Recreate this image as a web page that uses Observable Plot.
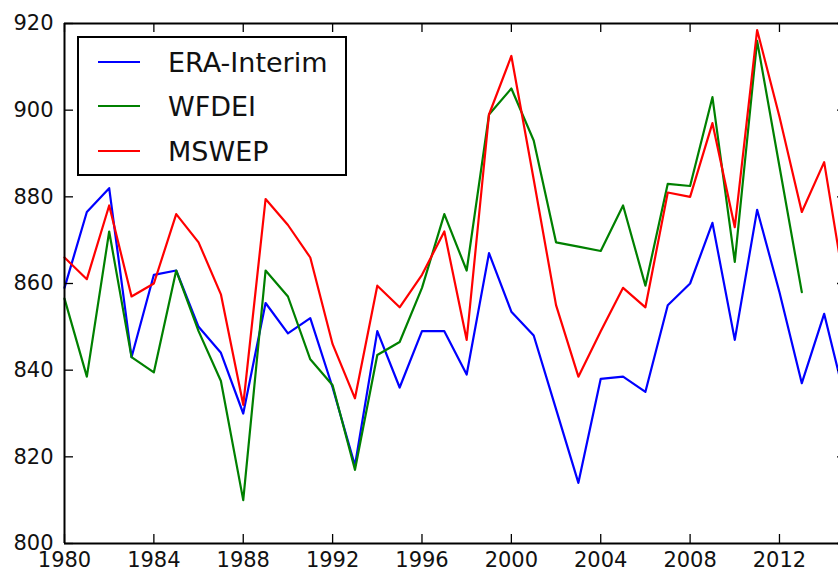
<!DOCTYPE html>
<html>
<head>
<meta charset="utf-8">
<script src="https://cdn.jsdelivr.net/npm/d3@7"></script>
<script src="https://cdn.jsdelivr.net/npm/@observablehq/plot@0.6"></script>
<style>
  html, body { margin: 0; padding: 0; background: white; overflow: hidden; }
  #wrap { position: relative; width: 838px; height: 574px; overflow: hidden; }
  #legend { position: absolute; left: 77px; top: 36px; width: 270px; height: 140px;
            box-sizing: border-box; border: 2px solid #000; background: white;
            font-family: "DejaVu Sans", sans-serif; font-size: 27px; color: #111; }
  .item { position: absolute; left: 0; height: 0; }
  .swatch { position: absolute; left: 19px; width: 42px; height: 0; border-top: 2px solid; top: -1px; }
  .label { position: absolute; left: 89px; top: 0; transform: translateY(-50%); white-space: nowrap; line-height: 1; }
</style>
</head>
<body>
<div id="wrap"></div>
<script>
const years = [1980,1981,1982,1983,1984,1985,1986,1987,1988,1989,
               1990,1991,1992,1993,1994,1995,1996,1997,1998,1999,
               2000,2001,2002,2003,2004,2005,2006,2007,2008,2009,
               2010,2011,2012,2013,2014,2015];
const eraInterim = [859, 876.5, 882, 843, 862, 863, 850, 844, 830, 855.5,
                    848.5, 852, 836, 818, 849, 836, 849, 849, 839, 867,
                    853.5, 848, 831, 814, 838, 838.5, 835, 855, 860, 874,
                    847, 877, 858, 837, 853, 832];
const wfdei = [856.5, 838.5, 872, 843, 839.5, 863, 849, 837.5, 810, 863,
               857, 842.5, 836.5, 817, 843.5, 846.5, 859, 876, 863, 899,
               905, 893, 869.5, 868.5, 867.5, 878, 859.5, 883, 882.5, 903,
               865, 916, 887, 858, null, null];
const mswep = [866, 861, 878, 857, 860, 876, 869.5, 857.5, 832, 879.5,
               873.5, 866, 846, 833.5, 859.5, 854.5, 862, 872, 847, 899,
               912.5, 884, 855, 838.5, 849, 859, 854.5, 881, 880, 897,
               873, 918.5, 898.5, 876.5, 888, 856.5];
const seriesNames = ["ERA-Interim", "WFDEI", "MSWEP"];
const seriesColors = ["#0000ff", "#008000", "#ff0000"];
const seriesValues = [eraInterim, wfdei, mswep];
const xTicks = [1980, 1984, 1988, 1992, 1996, 2000, 2004, 2008, 2012];
const yTicks = [800, 820, 840, 860, 880, 900, 920];

const rowsFor = vals => years.map((yr, i) => ({year: yr, value: vals[i]})).filter(d => d.value != null);

const lineMarks = seriesValues.map((vals, k) =>
  Plot.lineY(rowsFor(vals), {x: "year", y: "value", stroke: seriesColors[k], strokeWidth: 2.2})
);

const chart = Plot.plot({
  width: 838,
  height: 574,
  marginLeft: 64,
  marginRight: 0,
  marginTop: 23,
  marginBottom: 31,
  x: {domain: [1980, 2015], range: [64, 846], label: null},
  y: {domain: [800, 920], range: [543, 23], label: null},
  style: {fontFamily: "DejaVu Sans, sans-serif", fontSize: "21px", color: "#111", background: "white", overflow: "hidden"},
  marks: [
    ...lineMarks,
    Plot.ruleY([800, 920], {stroke: "#000", strokeWidth: 2}),
    Plot.ruleX([1980], {stroke: "#000", strokeWidth: 2}),
    Plot.ruleX(xTicks, {stroke: "#000", strokeWidth: 1.3, insetTop: 511}),
    Plot.ruleX(xTicks, {stroke: "#000", strokeWidth: 1.3, insetBottom: 511}),
    Plot.ruleY(yTicks, {stroke: "#000", strokeWidth: 1.3, insetRight: 765}),
    Plot.ruleY(yTicks, {stroke: "#000", strokeWidth: 1.3, insetLeft: 773}),
    Plot.axisX({ticks: xTicks, tickFormat: "d", tickSize: 0, tickPadding: 9, fill: "#111", label: null}),
    Plot.axisY({ticks: yTicks, tickFormat: "d", tickSize: 0, tickPadding: 11, fill: "#111", label: null})
  ]
});

const wrap = document.getElementById("wrap");
wrap.appendChild(chart);

const legend = document.createElement("div");
legend.id = "legend";
const rowTops = [24, 68, 113];
seriesNames.forEach((name, k) => {
  const item = document.createElement("div");
  item.className = "item";
  item.style.top = rowTops[k] + "px";
  const sw = document.createElement("div");
  sw.className = "swatch";
  sw.style.borderTopColor = seriesColors[k];
  const lab = document.createElement("div");
  lab.className = "label";
  lab.textContent = name;
  item.appendChild(sw);
  item.appendChild(lab);
  legend.appendChild(item);
});
wrap.appendChild(legend);
</script>
</body>
</html>
